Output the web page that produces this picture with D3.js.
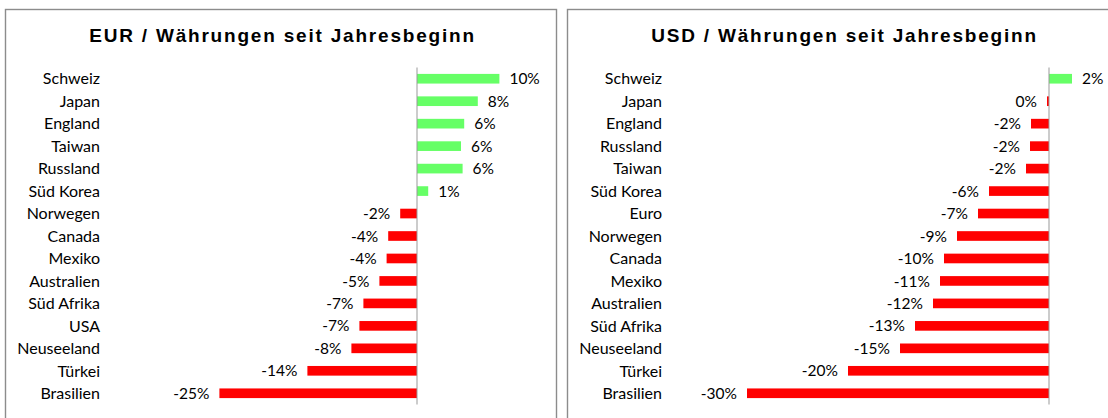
<!DOCTYPE html>
<html>
<head>
<meta charset="utf-8">
<script src="https://cdn.jsdelivr.net/npm/d3@7"></script>
<style>
  body { margin: 0; background: #fff; }
  .title { font-family: "Liberation Sans", Arial, sans-serif; font-weight: bold; font-size: 19px; fill: #000; }
  .cat { font-family: Lato, "Noto Sans", sans-serif; font-size: 16px; fill: #000; }
  .val { font-family: Lato, "Noto Sans", sans-serif; font-size: 15.5px; fill: #000; }
</style>
</head>
<body>
<script>
var WIDTH = 1108;
var HEIGHT = 418;

// EUR panel
var eurCategories = ['Schweiz', 'Japan', 'England', 'Taiwan', 'Russland', 'Süd Korea', 'Norwegen',
    'Canada', 'Mexiko', 'Australien', 'Süd Afrika', 'USA', 'Neuseeland', 'Türkei', 'Brasilien'];
var eurValues = [10.3, 7.6, 5.9, 5.5, 5.7, 1.4, -2.1, -3.6, -3.8, -4.7, -6.7, -7.2, -8.2, -13.7, -24.7];

// USD panel
var usdCategories = ['Schweiz', 'Japan', 'England', 'Russland', 'Taiwan', 'Süd Korea', 'Euro',
    'Norwegen', 'Canada', 'Mexiko', 'Australien', 'Süd Afrika', 'Neuseeland', 'Türkei', 'Brasilien'];
var usdValues = [2.3, -0.2, -1.8, -1.9, -2.3, -6.0, -7.1, -9.2, -10.5, -10.9, -11.6, -13.4, -14.9, -20.1, -30.2];

// axis ranges (percent)
var eurDomain = [-35, 15];
var usdDomain = [-35, 5];

var PANEL_W = 551;
var PLOT_LEFT = 132, PLOT_RIGHT = 532;  // local to each panel
var PLOT_TOP = 67.5, PLOT_BOTTOM = 404.5;

var svg = d3.select('body').append('svg')
    .attr('width', WIDTH)
    .attr('height', HEIGHT);

var fmt = function (v) { return Math.round(v) + '%'; };

function drawPanel(left, title, categories, values, domain) {
    var g = svg.append('g').attr('transform', 'translate(' + left + ',0)');

    g.append('rect')
        .attr('x', 0.5).attr('y', 9.5)
        .attr('width', PANEL_W).attr('height', HEIGHT + 20)
        .attr('fill', '#fff')
        .attr('stroke', '#8c8c8c')
        .attr('stroke-width', 1.4);

    g.append('text')
        .attr('class', 'title')
        .attr('x', PANEL_W / 2 + 2)
        .attr('y', 42)
        .attr('text-anchor', 'middle')
        .style('letter-spacing', '1.8px')
        .text(title);

    var x = d3.scaleLinear().domain(domain).range([PLOT_LEFT, PLOT_RIGHT]);
    var y = d3.scaleBand().domain(categories)
        .range([PLOT_TOP, PLOT_BOTTOM])
        .paddingInner(0.57)
        .paddingOuter(0.285);

    var rows = categories.map(function (c, i) { return { cat: c, val: values[i] }; });

    g.selectAll('.cat')
        .data(rows)
        .enter().append('text')
        .attr('class', 'cat')
        .attr('x', 95)
        .attr('y', function (d) { return y(d.cat) + y.bandwidth() / 2; })
        .attr('dy', '0.36em')
        .attr('text-anchor', 'end')
        .text(function (d) { return d.cat; });

    g.selectAll('.bar')
        .data(rows)
        .enter().append('rect')
        .attr('class', 'bar')
        .attr('x', function (d) { return x(Math.min(0, d.val)); })
        .attr('y', function (d) { return y(d.cat); })
        .attr('width', function (d) { return Math.abs(x(d.val) - x(0)); })
        .attr('height', y.bandwidth())
        .attr('fill', function (d) { return d.val >= 0 ? '#66ff66' : '#ff0000'; });

    g.selectAll('.val')
        .data(rows)
        .enter().append('text')
        .attr('class', 'val')
        .attr('x', function (d) { return d.val >= 0 ? x(d.val) + 10 : x(d.val) - 10; })
        .attr('y', function (d) { return y(d.cat) + y.bandwidth() / 2; })
        .attr('dy', '0.36em')
        .attr('text-anchor', function (d) { return d.val >= 0 ? 'start' : 'end'; })
        .text(function (d) { return fmt(d.val); });

    g.append('line')
        .attr('x1', x(0)).attr('x2', x(0))
        .attr('y1', PLOT_TOP).attr('y2', PLOT_BOTTOM)
        .attr('stroke', '#999')
        .attr('stroke-width', 1);
}

drawPanel(5, 'EUR / Währungen seit Jahresbeginn', eurCategories, eurValues, eurDomain);
drawPanel(567, 'USD / Währungen seit Jahresbeginn', usdCategories, usdValues, usdDomain);
</script>
</body>
</html>
